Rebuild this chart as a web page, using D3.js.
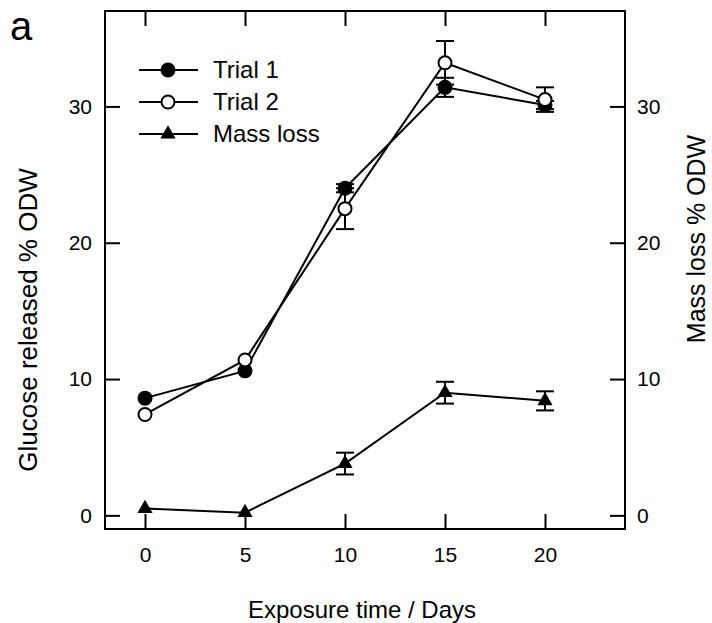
<!DOCTYPE html>
<html>
<head>
<meta charset="utf-8">
<script src="https://cdn.jsdelivr.net/npm/d3@7/dist/d3.min.js"></script>
<style>
  html, body { margin: 0; padding: 0; background: #fff; }
  svg { display: block; font-family: "Liberation Sans", Arial, sans-serif; }
</style>
</head>
<body>
<svg id="chart" width="712" height="623"></svg>
<script>
// ---- data ----
const days = [0, 5, 10, 15, 20];
const trial1 = [8.6, 10.6, 24.0, 31.4, 30.1];
const trial1Err = [0, 0, 0.3, 0.7, 0.3];
const trial2 = [7.4, 11.4, 22.5, 33.2, 30.5];
const trial2Err = [0, 0, 1.5, 1.6, 0.9];
const massLoss = [0.5, 0.2, 3.8, 9.0, 8.4];
const massLossErr = [0, 0, 0.8, 0.8, 0.7];
const xTicks = [0, 5, 10, 15, 20];
const yTicks = [0, 10, 20, 30];
const seriesNames = ["Trial 1", "Trial 2", "Mass loss"];

const svg = d3.select("#chart");
const x = d3.scaleLinear().domain([-2, 24]).range([105, 625]);
const y = d3.scaleLinear().domain([-1, 37]).range([529, 11]);
const yR = d3.scaleLinear().domain([-1, 37]).range([529, 11]);

const tickLen = 15;
const axisStroke = 2;

const g = svg.append("g");
function styleAxis(sel) {
  sel.select(".domain").remove();
  sel.selectAll(".tick line").attr("stroke", "#000").attr("stroke-width", axisStroke);
  sel.selectAll(".tick text").attr("font-size", 21).attr("fill", "#000")
     .attr("font-family", '"Liberation Sans", Arial, sans-serif');
}
// bottom
g.append("g").attr("transform", `translate(0,${y.range()[0]})`)
  .call(d3.axisBottom(x).tickValues(xTicks).tickSizeInner(-tickLen).tickSizeOuter(0).tickPadding(18))
  .call(styleAxis);
// top
g.append("g").attr("transform", `translate(0,${y.range()[1]})`)
  .call(d3.axisTop(x).tickValues(xTicks).tickSizeInner(-tickLen).tickSizeOuter(0).tickFormat(""))
  .call(styleAxis);
// left
g.append("g").attr("transform", `translate(${x.range()[0]},0)`)
  .call(d3.axisLeft(y).tickValues(yTicks).tickSizeInner(-tickLen).tickSizeOuter(0).tickPadding(13))
  .call(styleAxis);
// right
g.append("g").attr("transform", `translate(${x.range()[1]},0)`)
  .call(d3.axisRight(yR).tickValues(yTicks).tickSizeInner(-tickLen).tickSizeOuter(0).tickPadding(12))
  .call(styleAxis);

g.append("rect")
  .attr("x", x.range()[0]).attr("y", y.range()[1])
  .attr("width", x.range()[1] - x.range()[0]).attr("height", y.range()[0] - y.range()[1])
  .attr("fill", "none").attr("stroke", "#000").attr("stroke-width", axisStroke);

// axis titles
svg.append("text").attr("x", 362).attr("y", 618).attr("text-anchor", "middle")
  .attr("font-size", 24).text("Exposure time / Days");
svg.append("text").attr("transform", "translate(37,320) rotate(-90)").attr("text-anchor", "middle")
  .attr("font-size", 26).text("Glucose released % ODW");
svg.append("text").attr("transform", "translate(705,239) rotate(-90)").attr("text-anchor", "middle")
  .attr("font-size", 25).text("Mass loss % ODW");
svg.append("text").attr("x", 10).attr("y", 40).attr("font-size", 40).text("a");

// series
const series = [
  { name: seriesNames[0], vals: trial1, err: trial1Err, type: "filled" },
  { name: seriesNames[1], vals: trial2, err: trial2Err, type: "open" },
  { name: seriesNames[2], vals: massLoss, err: massLossErr, type: "tri" }
];
const line = d3.line().x(d => x(d[0])).y(d => y(d[1]));
const capW = 9;

series.forEach(s => {
  const pts = days.map((d, i) => [d, s.vals[i], s.err[i]]);
  svg.append("path").datum(pts).attr("d", line)
    .attr("fill", "none").attr("stroke", "#000").attr("stroke-width", 2);
});
series.forEach(s => {
  const pts = days.map((d, i) => [d, s.vals[i], s.err[i]]).filter(p => p[2] > 0);
  const eg = svg.append("g").attr("stroke", "#000").attr("stroke-width", 2);
  pts.forEach(p => {
    const cx = x(p[0]), y1 = y(p[1] + p[2]), y2 = y(p[1] - p[2]);
    eg.append("line").attr("x1", cx).attr("x2", cx).attr("y1", y1).attr("y2", y2);
    eg.append("line").attr("x1", cx - capW).attr("x2", cx + capW).attr("y1", y1).attr("y2", y1);
    eg.append("line").attr("x1", cx - capW).attr("x2", cx + capW).attr("y1", y2).attr("y2", y2);
  });
});
function drawMarker(sel, type, cx, cy) {
  if (type === "tri") {
    sel.append("path").attr("d", d3.symbol().type(d3.symbolTriangle).size(100)())
      .attr("transform", `translate(${cx},${cy})`).attr("fill", "#000");
  } else {
    sel.append("circle").attr("cx", cx).attr("cy", cy).attr("r", 6.5)
      .attr("fill", type === "filled" ? "#000" : "#fff")
      .attr("stroke", "#000").attr("stroke-width", 2);
  }
}
series.forEach(s => {
  const mg = svg.append("g");
  days.forEach((d, i) => drawMarker(mg, s.type, x(d), y(s.vals[i])));
});

// legend
const legY = [70, 102, 134];
series.forEach((s, i) => {
  const lg = svg.append("g");
  lg.append("line").attr("x1", 139).attr("x2", 198).attr("y1", legY[i]).attr("y2", legY[i])
    .attr("stroke", "#000").attr("stroke-width", 2);
  drawMarker(lg, s.type, 168, legY[i]);
  lg.append("text").attr("x", 213).attr("y", legY[i] + 8).attr("font-size", 24).text(s.name);
});
</script>
</body>
</html>
